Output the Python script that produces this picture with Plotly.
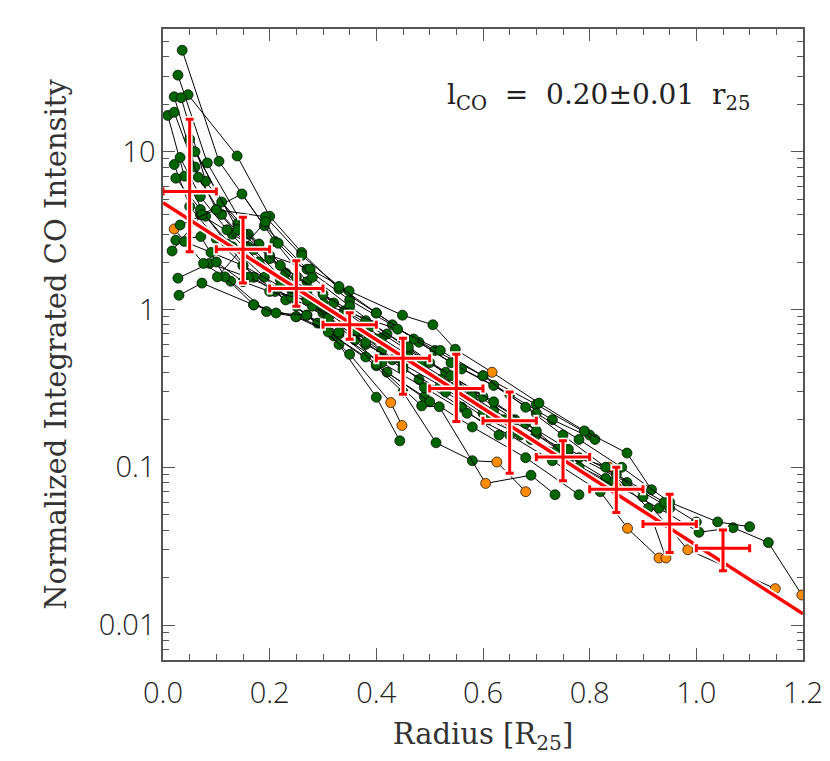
import numpy as np
import plotly.graph_objects as go

# radial CO profiles of the galaxies (radius in R25, normalized intensity)
profile_r = [
    [0.036, 0.105, 0.19, 0.27, 0.35, 0.43, 0.51, 0.60, 0.70, 0.80],
    [0.028, 0.083, 0.16, 0.23, 0.30, 0.37, 0.45, 0.53],
    [0.047, 0.139, 0.20, 0.26, 0.33, 0.40, 0.48, 0.56, 0.65, 0.73, 0.81],
    [0.07, 0.13, 0.20, 0.276, 0.349, 0.449, 0.506, 0.548, 0.617, 0.705, 0.79, 0.87, 0.916],
    [0.021, 0.06, 0.10, 0.16, 0.22, 0.29, 0.36, 0.43],
    [0.034, 0.08, 0.14, 0.20, 0.27, 0.34, 0.41, 0.48, 0.56, 0.63],
    [0.009, 0.04, 0.08, 0.13, 0.19, 0.25, 0.32, 0.40, 0.49, 0.58, 0.68, 0.78],
    [0.021, 0.066, 0.11, 0.17, 0.23, 0.30, 0.36, 0.42, 0.50],
    [0.032, 0.07, 0.12, 0.18, 0.24, 0.31, 0.38, 0.45, 0.52, 0.60, 0.67, 0.76, 0.84, 0.93, 1.005, 1.069, 1.135, 1.198],
    [0.021, 0.05, 0.10, 0.15, 0.21, 0.27, 0.33, 0.40, 0.444],
    [0.024, 0.07, 0.12, 0.17, 0.23, 0.29, 0.35, 0.427, 0.448],
    [0.017, 0.073, 0.148, 0.21, 0.27, 0.34, 0.41, 0.485, 0.55, 0.62, 0.70, 0.78, 0.87, 0.95],
    [0.03, 0.073, 0.17, 0.25, 0.33, 0.41, 0.49, 0.57, 0.65, 0.73, 0.82, 0.871, 0.93],
    [0.028, 0.087, 0.16, 0.24, 0.31, 0.38, 0.45, 0.53, 0.61, 0.69, 0.76, 0.836, 0.90, 0.984, 1.148],
    [0.021, 0.076, 0.127, 0.194, 0.249, 0.31, 0.38, 0.45, 0.512, 0.58, 0.626, 0.68],
    [0.024, 0.071, 0.116, 0.17, 0.212, 0.269, 0.33, 0.40, 0.485, 0.518, 0.605, 0.69, 0.735],
    [0.032, 0.10, 0.192, 0.26, 0.33, 0.40, 0.47, 0.54, 0.62, 0.70, 0.78, 0.86, 0.95, 1.04, 1.10],
    [0.102, 0.192, 0.216, 0.28, 0.35, 0.42, 0.50, 0.58, 0.66, 0.74, 0.83],
    [0.05, 0.11, 0.18, 0.25, 0.32, 0.39, 0.46, 0.53, 0.60, 0.68, 0.76, 0.85, 0.94, 1.00],
    [0.06, 0.14, 0.22, 0.30, 0.38, 0.46, 0.54, 0.62, 0.70, 0.78, 0.85],
    [0.04, 0.09, 0.15, 0.22, 0.28, 0.34, 0.40, 0.46, 0.52, 0.58, 0.64],
    [0.10, 0.15, 0.20, 0.27, 0.35, 0.44, 0.52, 0.60, 0.68, 0.75, 0.83, 0.91, 0.943],
]
profile_i = [
    [44, 8.7, 3.4, 1.8, 1.15, 0.8, 0.55, 0.38, 0.25, 0.16],
    [30.6, 8.5, 3.0, 1.7, 1.1, 0.72, 0.48, 0.33],
    [23, 9.4, 3.9, 2.3, 1.35, 0.95, 0.62, 0.42, 0.29, 0.2, 0.15],
    [4.0, 3.0, 2.2, 1.8, 1.31, 0.92, 0.80, 0.56, 0.40, 0.255, 0.17, 0.123, 0.072],
    [22.3, 8.0, 4.3, 2.5, 1.55, 1.05, 0.72, 0.48],
    [22, 6.5, 3.5, 2.1, 1.3, 0.85, 0.55, 0.36, 0.24, 0.16],
    [17, 7, 3.9, 2.5, 1.6, 1.05, 0.68, 0.44, 0.28, 0.18, 0.115, 0.067],
    [17.8, 6.9, 4.0, 2.4, 1.5, 0.95, 0.64, 0.40, 0.26],
    [9.2, 5.2, 3.2, 2.0, 1.35, 0.9, 0.6, 0.45, 0.33, 0.22, 0.16, 0.11, 0.08, 0.055, 0.0387, 0.0414, 0.0333, 0.0155],
    [8.3, 4.5, 2.8, 1.9, 1.3, 0.92, 0.6, 0.278, 0.147],
    [6.8, 4.3, 2.6, 1.6, 1.15, 0.82, 0.52, 0.257, 0.184],
    [2.35, 4.0, 5.4, 2.7, 1.5, 0.98, 0.66, 0.45, 0.33, 0.23, 0.16, 0.115, 0.08, 0.055],
    [1.23, 1.47, 1.07, 0.9, 0.7, 0.46, 0.32, 0.22, 0.16, 0.11, 0.07, 0.041, 0.0266],
    [1.58, 1.96, 1.6, 1.2, 0.88, 0.62, 0.42, 0.3, 0.2, 0.15, 0.12, 0.1, 0.065, 0.03, 0.017],
    [3.24, 1.96, 1.51, 0.97, 0.9, 0.72, 0.5, 0.3, 0.143, 0.11, 0.108, 0.07],
    [2.75, 2.9, 1.61, 1.07, 0.95, 0.92, 0.72, 0.45, 0.245, 0.242, 0.079, 0.089, 0.067],
    [3.43, 4.3, 3.87, 2.2, 1.4, 0.95, 0.65, 0.46, 0.33, 0.22, 0.15, 0.1, 0.06, 0.045, 0.042],
    [1.61, 3.6, 2.63, 1.6, 1.05, 0.7, 0.46, 0.3, 0.2, 0.13, 0.085],
    [12, 4.8, 2.6, 1.6, 1.1, 0.78, 0.55, 0.4, 0.28, 0.19, 0.13, 0.09, 0.06, 0.045],
    [10, 3.2, 1.9, 1.25, 0.85, 0.58, 0.38, 0.26, 0.17, 0.1, 0.075],
    [2.7, 2.3, 1.9, 1.4, 1.05, 0.85, 0.65, 0.5, 0.36, 0.28, 0.2],
    [2.0, 1.5, 1.3, 1.15, 0.95, 0.75, 0.55, 0.38, 0.24, 0.16, 0.1, 0.055, 0.0266],
]
# (profile, point) pairs drawn in orange
faint_points = [(8, 17), (10, 7), (10, 8), (12, 11), (12, 12), (13, 11), (13, 13), (13, 14),
                (14, 0), (14, 10), (14, 11), (15, 10), (21, 12), (3, 8), (19, 10), (20, 5)]

# binned averages
bin_r = [0.05, 0.15, 0.25, 0.35, 0.45, 0.55, 0.65, 0.75, 0.85, 0.95, 1.05]
bin_i = [5.6, 2.41, 1.36, 0.80, 0.49, 0.316, 0.197, 0.116, 0.0726, 0.0437, 0.0307]
bin_hi = [16.1, 3.84, 2.04, 0.955, 0.657, 0.52, 0.30, 0.147, 0.10, 0.0674, 0.040]
bin_lo = [2.32, 1.47, 1.05, 0.647, 0.29, 0.195, 0.0916, 0.082, 0.0516, 0.0288, 0.0221]
bin_half_width = 0.05

# exponential fit
fit_i0 = 4.75
fit_scale = 0.20
fit_r = [0.0, 1.2]

x_ticks = [0.0, 0.2, 0.4, 0.6, 0.8, 1.0, 1.2]
y_ticks = [0.01, 0.1, 1, 10]

SERIF = "DejaVu Serif"
SANS = "Open Sans"
TXT = "#222"
fig = go.Figure()

faint = set(faint_points)
for k, (rr, ii) in enumerate(zip(profile_r, profile_i)):
    cols = ["#ff8c00" if (k, j) in faint else "#006400" for j in range(len(rr))]
    fig.add_trace(go.Scatter(
        x=rr, y=ii, mode="lines+markers",
        line=dict(color="black", width=1),
        marker=dict(size=10, color=cols, line=dict(color="black", width=0.7)),
        showlegend=False, hoverinfo="skip",
    ))

fit_y = [fit_i0 * np.exp(-r / fit_scale) for r in fit_r]
fig.add_trace(go.Scatter(x=fit_r, y=fit_y, mode="lines",
                         line=dict(color="white", width=7), showlegend=False))
fig.add_trace(go.Scatter(x=fit_r, y=fit_y, mode="lines",
                         line=dict(color="red", width=3.5), showlegend=False))

err_up = [h - m for h, m in zip(bin_hi, bin_i)]
err_dn = [m - l for m, l in zip(bin_i, bin_lo)]
for col, th, wd in [("white", 6, 6), ("red", 3, 4)]:
    fig.add_trace(go.Scatter(
        x=bin_r, y=bin_i, mode="markers",
        marker=dict(size=1, color="rgba(0,0,0,0)"),
        error_x=dict(type="constant", value=bin_half_width, color=col, thickness=th, width=wd),
        error_y=dict(type="data", symmetric=False, array=err_up, arrayminus=err_dn,
                     color=col, thickness=th, width=wd),
        showlegend=False,
    ))

fig.add_annotation(
    x=0.44, y=0.893, xref="paper", yref="paper", xanchor="left", yanchor="middle",
    text="l<sub>CO</sub>  =  0.20±0.01  r<sub>25</sub>", showarrow=False,
    font=dict(family=SERIF, size=28, color=TXT),
)

axis_common = dict(
    showline=True, linecolor="#555", linewidth=1.5, mirror="ticks",
    ticks="inside", tickcolor="#555", tickwidth=1.2, ticklen=12,
    showgrid=False, zeroline=False, automargin=False,
    tickfont=dict(family=SANS, size=29, color=TXT, weight=300),
)
fig.update_xaxes(
    range=[0, 1.2], tickvals=x_ticks, ticktext=[f"{v:.1f}" for v in x_ticks],
    ticklabelstandoff=6, ticklabeloverflow="allow",
    minor=dict(ticks="inside", ticklen=6, dtick=0.05, tickcolor="#555", showgrid=False),
    title=dict(text="Radius [R<sub>25</sub>]", font=dict(family=SERIF, size=29, color="#333"), standoff=14),
    **axis_common,
)
fig.update_yaxes(
    type="log", range=[np.log10(0.006), np.log10(60)],
    tickvals=y_ticks, ticktext=["0.01", "0.1", "1", "10"],
    minor=dict(ticks="inside", ticklen=6, dtick="D1", tickcolor="#555", showgrid=False),
    title=dict(text="Normalized Integrated CO Intensity", font=dict(family=SERIF, size=29, color="#333"), standoff=24),
    **axis_common,
)
fig.update_layout(
    width=822, height=753,
    margin=dict(l=155, r=27, t=21, b=101),
    plot_bgcolor="white", paper_bgcolor="white",
)
fig.write_html("out.html")
